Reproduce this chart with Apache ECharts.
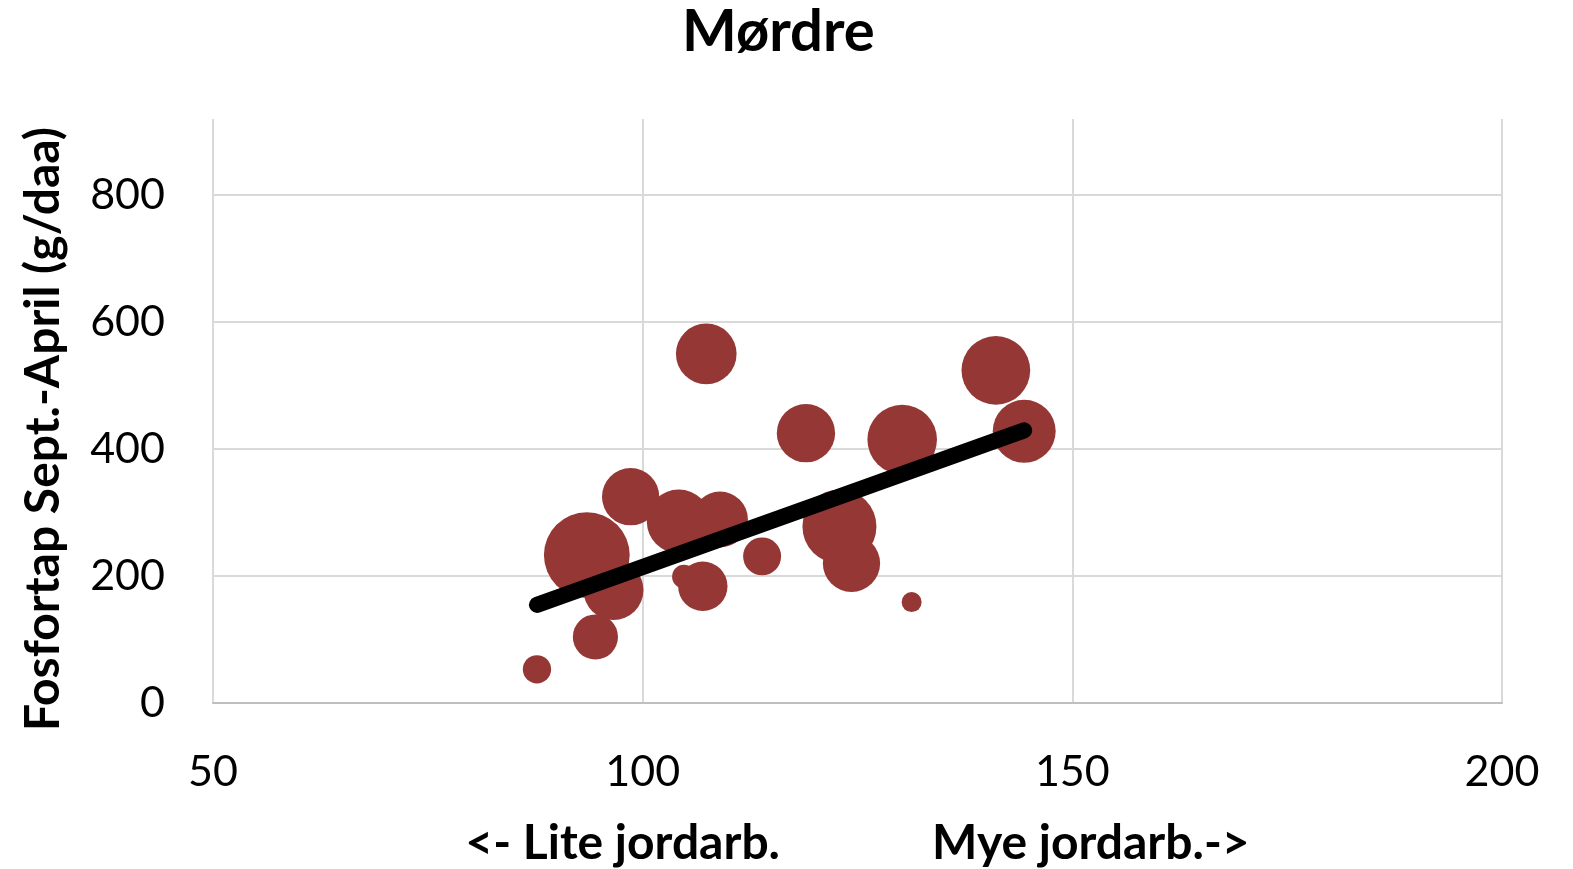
<!DOCTYPE html>
<html>
<head>
<meta charset="utf-8">
<title>Mørdre</title>
<script src="https://cdn.jsdelivr.net/npm/echarts@6/dist/echarts.min.js"></script>
<style>
  html, body { margin: 0; padding: 0; background: #fff; }
  #chart { width: 1573px; height: 869px; }
</style>
</head>
<body>
<div id="chart"></div>
<script>
// jordarbeiding (x), fosfortap g/daa (y), boblestørrelse (relativ verdi)
const xValues = [107.4, 141.1, 144.4, 119.0, 130.2, 98.6, 93.5, 96.6, 94.5, 87.7, 104.2, 109.0, 104.8, 107.0, 113.9, 122.9, 124.3, 131.3]
const yValues = [550, 524, 428, 425, 415, 325, 233, 178, 104, 53, 286, 289, 199, 184, 231, 278, 220, 159]
const bubbleValues = [92, 118, 99, 85, 121, 82, 184, 90, 51, 20, 102, 78, 14, 61, 36, 137, 82, 10]

// trendlinje, endepunkter
const trendX = [87.7, 144.4]
const trendY = [154.6, 429.5]

const xTicks = [50, 100, 150, 200]
const yTicks = [0, 200, 400, 600, 800]

const FONT = 'Lato'
const chart = echarts.init(document.getElementById('chart'))

const bubbleData = xValues.map((x, i) => [x, yValues[i], bubbleValues[i]])
const trendData = trendX.map((x, i) => [x, trendY[i]])

const option = {
  animation: false,
  backgroundColor: '#ffffff',
  title: {
    text: 'Mørdre',
    left: 677,
    top: -2,
    textStyle: { fontFamily: FONT, fontSize: 58, fontWeight: 'bold', color: '#000' }
  },
  grid: { left: 213, right: 71, top: 119, bottom: 166, outerBoundsMode: 'none' },
  xAxis: {
    type: 'value',
    min: xTicks[0],
    max: xTicks[xTicks.length - 1],
    interval: 50,
    name: '{l|<- Lite jordarb.}{r|Mye jordarb.->}',
    nameLocation: 'middle',
    nameGap: 117,
    nameTextStyle: {
      rich: {
        l: { fontFamily: FONT, fontSize: 48, fontWeight: 'bold', color: '#000', padding: [0, 152, 0, 0] },
        r: { fontFamily: FONT, fontSize: 48, fontWeight: 'bold', color: '#000' }
      }
    },
    axisLine: { show: true, lineStyle: { color: '#bfbfbf', width: 2 } },
    axisTick: { show: false },
    axisLabel: { fontFamily: FONT, fontSize: 43, color: '#000', margin: 48 },
    splitLine: { show: true, lineStyle: { color: '#d9d9d9', width: 2 } }
  },
  yAxis: {
    type: 'value',
    min: yTicks[0],
    max: 920,
    interval: 200,
    name: 'Fosfortap Sept.-April (g/daa)',
    nameLocation: 'middle',
    nameRotate: 90,
    nameGap: 145,
    nameTextStyle: { fontFamily: FONT, fontSize: 48, fontWeight: 'bold', color: '#000', padding: [0, 36, 0, 0] },
    axisLine: { show: false },
    axisTick: { show: false },
    axisLabel: { fontFamily: FONT, fontSize: 43, color: '#000', margin: 48, showMaxLabel: false },
    splitLine: { show: true, showMaxLine: false, lineStyle: { color: '#d9d9d9', width: 2 } }
  },
  series: [
    {
      type: 'scatter',
      data: bubbleData,
      symbolSize: d => 2 * Math.sqrt(d[2] * 10),
      itemStyle: { color: '#953735', opacity: 1 }
    },
    {
      type: 'line',
      data: trendData,
      symbol: 'none',
      lineStyle: { color: '#000', width: 16, cap: 'round' },
      z: 5
    }
  ]
}

chart.setOption(option)
</script>
</body>
</html>
